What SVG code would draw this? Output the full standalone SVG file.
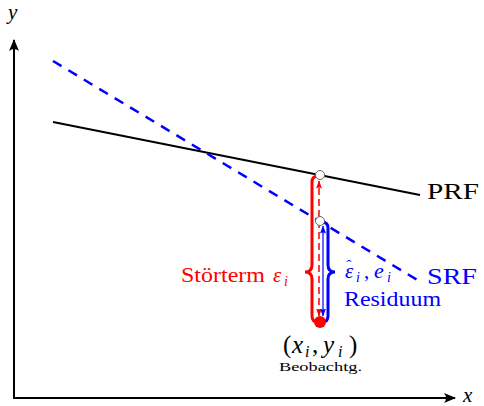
<svg xmlns="http://www.w3.org/2000/svg" width="484" height="406" viewBox="0 0 484 406">
<style>
text{font-family:"Liberation Serif","DejaVu Serif",serif}
.it{font-style:italic}
.ax{stroke:#000;stroke-width:2;fill:none}
</style>
<defs>
<marker id="ahk" viewBox="0 0 12 10" refX="11" refY="5" markerWidth="12" markerHeight="10" markerUnits="userSpaceOnUse" orient="auto"><path d="M0,0 Q4,5 0,10 L12,5 Z" fill="#000"/></marker>
<marker id="ahr" viewBox="0 0 8 6" refX="7.5" refY="3" markerWidth="8" markerHeight="6" markerUnits="userSpaceOnUse" orient="auto-start-reverse"><path d="M0,0 Q2,3 0,6 L8,3 Z" fill="#f00"/></marker>
<marker id="ahb" viewBox="0 0 8 6" refX="7.5" refY="3" markerWidth="8" markerHeight="6" markerUnits="userSpaceOnUse" orient="auto-start-reverse"><path d="M0,0 Q2,3 0,6 L8,3 Z" fill="#00f"/></marker>
</defs>
<g id="axes">
<path class="ax" d="M14,398 L14,40" marker-end="url(#ahk)"/>
<path class="ax" d="M13,398 L455,398" marker-end="url(#ahk)"/>
<text x="8" y="19" class="it" font-family="Liberation Serif" font-size="21">y</text>
<text x="463" y="402" class="it" font-family="Liberation Serif" font-size="21">x</text>
</g>
<g id="connectors">
<line id="PRF-line" x1="53" y1="122" x2="420" y2="195" stroke="#000" stroke-width="2"/>
<line id="SRF-line" x1="53" y1="61" x2="419" y2="281" stroke="#00f" stroke-width="2.5" stroke-dasharray="10,8"/>
<path id="brace-red" d="M318,176 Q312,176 312,182 L312,265 Q312,272 305,272 Q312,272 312,279 L312,316 Q312,322 318,322" fill="none" stroke="#f00" stroke-width="3"/>
<path id="brace-blue" d="M322,222 Q328,222 328,228 L328,265 Q328,272 335,272 Q328,272 328,279 L328,316 Q328,322 322,322" fill="none" stroke="#00f" stroke-width="3"/>
<line id="arrow-red" x1="319" y1="316" x2="319" y2="181" stroke="#f00" stroke-width="1.5" stroke-dasharray="7,4" marker-start="url(#ahr)" marker-end="url(#ahr)"/>
<line id="arrow-blue" x1="323" y1="316" x2="323" y2="226" stroke="#00f" stroke-width="1.2" marker-start="url(#ahb)" marker-end="url(#ahb)"/>
</g>
<g id="obs" font-family="Liberation Serif">
<circle cx="320" cy="322" r="6" fill="#f00"/>
<text x="283" y="353" font-size="25">(</text>
<text x="292" y="353" font-size="25" class="it">x</text>
<text x="305" y="357" font-size="16" class="it">i</text>
<text x="312" y="353" font-size="25">,</text>
<text x="323" y="353" font-size="25" class="it">y</text>
<text x="338" y="357" font-size="16" class="it">i</text>
<text x="349" y="353" font-size="25">)</text>
<text x="279" y="371" font-size="12.5" textLength="83" lengthAdjust="spacingAndGlyphs">Beobachtg.</text>
</g>
<g id="pt-prf"><circle cx="320" cy="175" r="4.5" fill="#fff" stroke="#666" stroke-width="1"/></g>
<g id="pt-srf"><circle cx="320" cy="221" r="4.5" fill="#fff" stroke="#666" stroke-width="1"/></g>
<g id="PRF"><text x="427" y="199" font-family="Liberation Serif" font-size="24" textLength="52" lengthAdjust="spacingAndGlyphs">PRF</text></g>
<g id="SRF"><text x="427" y="284" font-family="Liberation Serif" font-size="24" textLength="50" lengthAdjust="spacingAndGlyphs" fill="#00f">SRF</text></g>
<g id="stoerterm" fill="#f00" font-family="Liberation Serif">
<text x="181" y="282" font-size="20.5" textLength="84" lengthAdjust="spacingAndGlyphs">Störterm</text>
<text x="273" y="282" font-size="21" class="it">ε</text>
<text x="284" y="286" font-size="14" class="it">i</text>
</g>
<g id="residuum" fill="#00f" font-family="Liberation Serif">
<text font-size="21"><tspan x="345" y="278" class="it">ε</tspan><tspan x="346.5" y="270" font-size="15">ˆ</tspan></text>
<text x="356" y="282" font-size="14" class="it">i</text>
<text x="364" y="278" font-size="21">,</text>
<text x="374" y="278" font-size="22" class="it">e</text>
<text x="387" y="282" font-size="14" class="it">i</text>
<text x="344" y="306" font-size="20.5" textLength="97" lengthAdjust="spacingAndGlyphs">Residuum</text>
</g>
</svg>
